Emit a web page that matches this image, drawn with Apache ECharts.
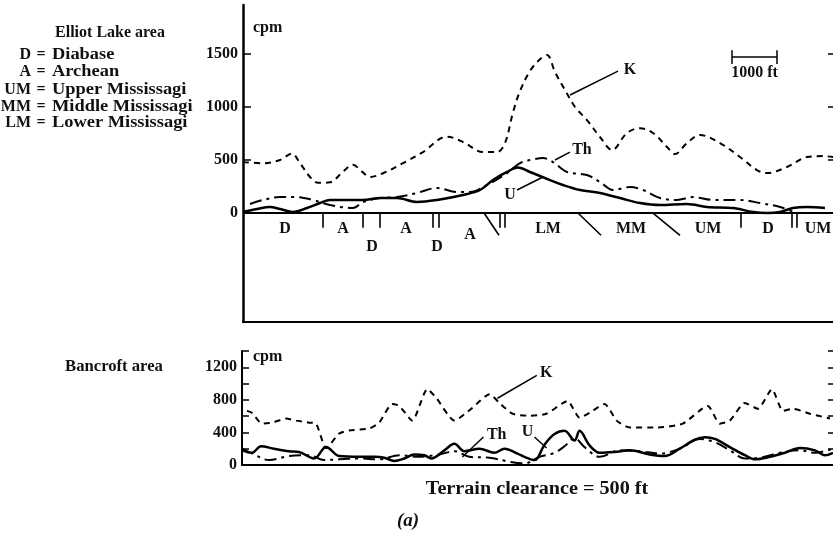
<!DOCTYPE html>
<html><head><meta charset="utf-8">
<script src="https://cdn.jsdelivr.net/npm/echarts@6.0.0/dist/echarts.min.js"></script>
<style>html,body{margin:0;padding:0;background:#fff}#c{width:833px;height:537px}</style>
</head><body><div id="c"></div>
<script>
// ---------- DATA (distance along flight line in ft, count rate in cpm) ----------
// Elliot Lake area
const elliotKDist = [0,444,822,1089,1267,1489,1667,1933,2222,2444,2644,2822,3111,3556,4000,4533,4889,5333,5644,5822,6000,6156,6378,6600,6756,6933,7156,7378,7644,7933,8200,8533,8822,9111,9422,9600,9867,10156,10600,11044,11422,11644,12089,12533,12889,13111];
const elliotKCpm  = [480,470,500,560,470,340,285,290,390,455,390,340,375,470,575,720,670,575,575,660,950,1150,1340,1450,1490,1330,1160,1000,877,717,594,755,800,755,623,556,660,735,660,528,405,377,434,528,537,528];
const elliotThDist = [156,444,822,1200,1556,1933,2444,2667,3044,3422,3867,4311,4756,5044,5422,5867,6156,6444,6667,6889,7200,7644,7933,8222,8600,8889,9267,9644,10000,10444,11044,11489,11933,12222];
const elliotThCpm  = [85,123,150,150,123,75,47,104,141,150,189,236,198,198,264,377,470,505,519,481,387,358,292,217,245,217,141,123,150,123,123,94,57,10];
const elliotUDist = [0,311,600,822,1111,1422,1711,1933,2378,2667,3044,3422,3867,4311,4889,5267,5556,5867,6111,6378,6822,7111,7489,7933,8378,8822,9267,9867,10311,10889,11333,11644,11933,12222,12533,12933];
const elliotUCpm  = [10,38,57,38,10,47,94,123,123,123,141,141,104,123,170,217,311,387,430,387,311,264,217,189,141,94,75,85,57,47,10,0,10,47,57,47];
// Bancroft area
const bancroftKDist = [111,222,444,667,978,1200,1489,1644,1867,2156,2378,2822,3044,3333,3489,3778,4111,4311,4711,5111,5489,5711,6000,6378,6756,7222,7489,7711,8044,8311,8600,9200,9778,10333,10600,10822,11156,11444,11756,12000,12222,12600,13044];
const bancroftKCpm  = [665,640,508,520,570,545,520,508,206,387,424,448,520,750,726,545,931,823,545,702,870,762,630,605,630,786,580,640,750,545,460,460,508,726,508,545,762,690,931,665,690,630,570];
const bancroftUDist = [0,222,422,711,1044,1267,1600,1867,2156,2600,2933,3156,3378,3600,3822,4044,4200,4489,4711,4933,5267,5600,5822,6111,6267,6489,6711,6933,7156,7378,7489,7711,7933,8267,8600,9044,9378,9711,10044,10267,10489,10822,11156,11378,11711,12044,12378,12711,12933,13111];
const bancroftUCpm  = [180,150,230,200,170,160,80,220,110,100,100,90,50,80,130,120,80,180,260,170,200,150,200,140,100,60,250,380,420,300,420,240,150,160,180,130,110,200,310,340,320,220,120,70,100,150,210,180,120,150];
const bancroftThDist = [0,267,600,1044,1489,1822,2156,2600,3044,3489,3933,4378,4711,5044,5489,5933,6267,6600,6933,7156,7378,7600,7933,8378,8822,9267,9711,10156,10489,10822,11156,11489,11933,12378,12711,13111];
const bancroftThCpm  = [200,130,60,110,120,60,70,80,70,120,100,130,170,100,90,40,20,100,150,230,330,220,100,180,170,140,200,320,280,180,80,90,150,180,150,200];
// Geology along the Elliot Lake profile
const unitCodes = ['D','A','UM','MM','LM'];
const unitNames = ['Diabase','Archean','Upper Mississagi','Middle Mississagi','Lower Mississagi'];
const geoLabels    = ['D','A','D','A','D','A','LM','MM','UM','D','UM'];
const geoLabelDist = [933,2222,2867,3622,4311,5044,6778,8622,10333,11667,12778];
const verticalContactDist = [1778,2667,3044,4222,4356,5711,5822,11067,12200,12311];
const obliqueContactDist  = [[5356,5689],[7444,7956],[9111,9711]];
// Axis ticks
const elliotTickLabels = [0,500,1000,1500];
const bancroftTickLabels = [0,400,800,1200];
const bancroftTicks = [200,400,600,800,1000,1200,1400];
const scaleBarFt = 1000;
const xMaxFt = 13111;

// ---------- CHART ----------
const FF = '"Liberation Serif", "Times New Roman", serif';
const pairs = (d, v) => d.map((x, i) => [x, v[i]]);
const chart = echarts.init(document.getElementById('c'), null, {renderer: 'canvas'});

const geoLabelRow = {0:-150, 2:-320, 4:-320, 5:-207}; // layout: row offsets for narrow units
const lineSeries = (name, d, v, xi, yi, type, w, smooth) => ({
  name, type: 'line', xAxisIndex: xi, yAxisIndex: yi, data: pairs(d, v),
  symbol: 'none', smooth, silent: true,
  lineStyle: {color: '#000', width: w, type}
});
const segs = (xi, yi, list, w) => ({
  type: 'lines', coordinateSystem: 'cartesian2d', xAxisIndex: xi, yAxisIndex: yi,
  silent: true, polyline: false, z: 5,
  lineStyle: {color: '#000', width: w, opacity: 1, curveness: 0},
  data: list.map(c => ({coords: c}))
});
const labels = (xi, yi, list, size, weight) => ({
  type: 'scatter', xAxisIndex: xi, yAxisIndex: yi, symbolSize: 0, silent: true, z: 6,
  itemStyle: {color: '#000', opacity: 1},
  data: list.map(o => ({name: o[0], value: [o[1], o[2]]})),
  label: {show: true, position: [0, 0], align: 'center', verticalAlign: 'middle',
          formatter: p => p.name, color: '#111', textBorderWidth: 0,
          fontFamily: FF, fontSize: size || 16, fontWeight: weight || 'bold'}
});

const geoTicks = verticalContactDist.map(x => [[x, 0], [x, -140]])
  .concat(obliqueContactDist.map(p => [[p[0], 0], [p[1], -210]]));
const geoText = geoLabels.map((s, i) => [s, geoLabelDist[i], geoLabelRow[i] !== undefined ? geoLabelRow[i] : -150]);

const barY = 1470, barX0 = 10867;
const topAnno = [
  [[7267, 1113], [8333, 1339]],            // K leader
  [[6933, 500], [7267, 575]],              // Th leader
  [[6089, 217], [6667, 340]],              // U leader
  [[barX0, barY], [barX0 + scaleBarFt, barY]],
  [[barX0, barY - 65], [barX0, barY + 65]],
  [[barX0 + scaleBarFt, barY - 65], [barX0 + scaleBarFt, barY + 65]]
];
const topAnnoText = [['K', 8600, 1349], ['Th', 7533, 594], ['U', 5933, 175]];
const scaleText = [[scaleBarFt + ' ft', barX0 + scaleBarFt / 2, 1320]];
const botAnno = [
  [[5667, 820], [6540, 1100]],
  [[4889, 98], [5356, 343]],
  [[6489, 343], [6756, 208]]
];
const botAnnoText = [['K', 6750, 1126], ['Th', 5650, 367], ['U', 6333, 404]];

const txt = (s, x, y, o = {}) => ({
  type: 'text', x, y, silent: true, scaleX: o.sx || 1,
  style: {text: s, font: `${o.style || 'normal'} ${o.weight || 'bold'} ${o.size || 16}px ${FF}`,
          fill: '#111', align: o.align || 'center', verticalAlign: 'middle'}
});
const graphic = [
  txt('Elliot Lake area', 110, 33),
  txt('Bancroft area', 114, 367, {sx: 1.04}),
  txt('cpm', 253, 28, {align: 'left'}),
  txt('cpm', 253, 357, {align: 'left'}),
  txt('Terrain clearance = 500 ft', 537, 489, {size: 18, sx: 1.12}),
  txt('(a)', 408, 521, {size: 19, style: 'italic'})
];
const rowY = [55, 72, 90, 107, 123];
unitCodes.forEach((c, i) => {
  graphic.push(txt(c, 31, rowY[i], {align: 'right'}));
  graphic.push(txt('=', 41, rowY[i]));
  graphic.push(txt(unitNames[i], 52, rowY[i], {align: 'left', sx: 1.15}));
});

const axisCommonX = {
  type: 'value', min: 0, max: xMaxFt,
  axisTick: {show: false}, axisLabel: {show: false}, splitLine: {show: false}
};
const labelStyle = {color: '#111', fontFamily: FF, fontSize: 16, fontWeight: 'bold', margin: 5,
                    formatter: v => String(v)};

chart.setOption({
  animation: false,
  backgroundColor: '#fff',
  grid: [
    {left: 243, top: 5, width: 590, height: 317},
    {left: 242, top: 351, width: 591, height: 114}
  ],
  xAxis: [
    Object.assign({gridIndex: 0, axisLine: {onZero: false, lineStyle: {color: '#000', width: 2}}}, axisCommonX),
    Object.assign({gridIndex: 1, axisLine: {onZero: false, lineStyle: {color: '#000', width: 2}}}, axisCommonX)
  ],
  yAxis: [
    {gridIndex: 0, type: 'value', min: -1028, max: 1962, position: 'left',
     axisLine: {show: true, lineStyle: {color: '#000', width: 2.5}},
     axisTick: {show: true, inside: true, length: 8, lineStyle: {color: '#000', width: 1.5}, customValues: elliotTickLabels.slice(1)},
     axisLabel: Object.assign({customValues: elliotTickLabels}, labelStyle),
     splitLine: {show: false}},
    {gridIndex: 0, type: 'value', min: -1028, max: 1962, position: 'right',
     axisLine: {show: false},
     axisTick: {show: true, inside: true, length: 5, lineStyle: {color: '#000', width: 1.5}, customValues: elliotTickLabels.slice(1)},
     axisLabel: {show: false}, splitLine: {show: false}},
    {gridIndex: 1, type: 'value', min: 0, max: 1400, position: 'left',
     axisLine: {show: true, lineStyle: {color: '#000', width: 2}},
     axisTick: {show: true, inside: true, length: 7, lineStyle: {color: '#000', width: 1.5}, customValues: bancroftTicks},
     axisLabel: Object.assign({customValues: bancroftTickLabels}, labelStyle),
     splitLine: {show: false}},
    {gridIndex: 1, type: 'value', min: 0, max: 1400, position: 'right',
     axisLine: {show: false},
     axisTick: {show: true, inside: true, length: 5, lineStyle: {color: '#000', width: 1.5}, customValues: bancroftTicks},
     axisLabel: {show: false}, splitLine: {show: false}}
  ],
  series: [
    lineSeries('K', elliotKDist, elliotKCpm, 0, 0, [6, 5], 2, 0.35),
    lineSeries('Th', elliotThDist, elliotThCpm, 0, 0, [12, 5, 3, 5], 2, 0.35),
    Object.assign(lineSeries('U', elliotUDist, elliotUCpm, 0, 0, 'solid', 2.5, 0.35), {
      markLine: {silent: true, symbol: 'none', label: {show: false},
                 lineStyle: {color: '#000', width: 2, type: 'solid'}, data: [{yAxis: 0}]}
    }),
    segs(0, 0, geoTicks, 1.6),
    labels(0, 0, geoText),
    segs(0, 0, topAnno, 1.5),
    labels(0, 0, topAnnoText),
    labels(0, 0, scaleText),
    lineSeries('K', bancroftKDist, bancroftKCpm, 1, 2, [6, 5], 2, 0.2),
    lineSeries('Th', bancroftThDist, bancroftThCpm, 1, 2, [12, 5, 3, 5], 2, 0.35),
    lineSeries('U', bancroftUDist, bancroftUCpm, 1, 2, 'solid', 2.5, 0.35),
    segs(1, 2, botAnno, 1.5),
    labels(1, 2, botAnnoText)
  ],
  graphic
});
</script>
</body></html>
